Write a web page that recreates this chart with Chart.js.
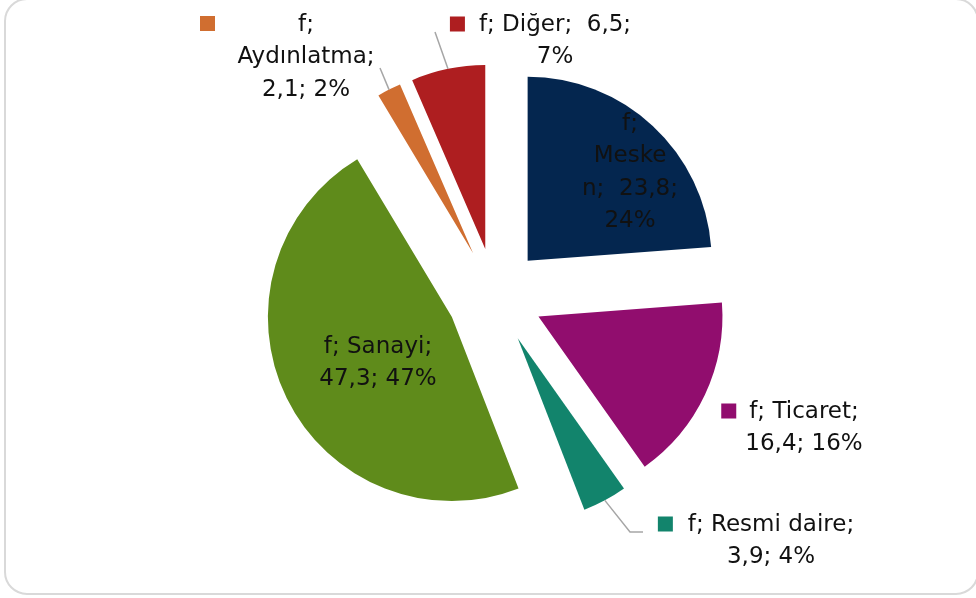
<!DOCTYPE html>
<html>
<head>
<meta charset="utf-8">
<script src="https://cdn.jsdelivr.net/npm/chart.js@4/dist/chart.umd.min.js"></script>
<style>
  html, body { margin: 0; padding: 0; background: #ffffff; }
  #wrap { width: 976px; height: 598px; position: relative; }
</style>
</head>
<body>
<div id="wrap"><canvas id="c" width="976" height="598"></canvas></div>
<script>
// ---- data ----
const categories = ['Mesken', 'Ticaret', 'Resmi daire', 'Sanayi', 'Aydınlatma', 'Diğer'];
const seriesName = 'f';
const values = [23.8, 16.4, 3.9, 47.3, 2.1, 6.5];
const percentLabels = ['24%', '16%', '4%', '47%', '2%', '7%'];
const valueLabels = ['23,8', '16,4', '3,9', '47,3', '2,1', '6,5'];

// ---- styles ----
const colors = ['#04264F', '#910D6E', '#12846C', '#5F8B1B', '#D06E30', '#AE1E20'];
const EXPLODE = 48;
const RADIUS = 184;
const FONT = '23px "DejaVu Sans", sans-serif';
const TEXT_COLOR = '#111111';
const LINE_H = 32.5;

// label layout (text lines built from data)
const labelLayout = [
  { lines: [seriesName + ';', 'Meske', 'n;  ' + valueLabels[0] + ';', percentLabels[0]], cx: 630, y: 124, key: null },
  { lines: [seriesName + '; ' + categories[1] + ';', valueLabels[1] + '; ' + percentLabels[1]], cx: 804, y: 412, key: 'adj', gap: 13 },
  { lines: [seriesName + '; ' + categories[2] + ';', valueLabels[2] + '; ' + percentLabels[2]], cx: 771, y: 525, key: 'adj', gap: 15,
    leader: [[630, 532], [643, 532]] },
  { lines: [seriesName + '; ' + categories[3] + ';', valueLabels[3] + '; ' + percentLabels[3]], cx: 378, y: 347, key: null },
  { lines: [seriesName + ';', categories[4] + ';', valueLabels[4] + '; ' + percentLabels[4]], cx: 306, y: 25, key: 'abs', kx: 200, ky: 16,
    leader: [[380, 68]] },
  { lines: [seriesName + '; ' + categories[5] + ';  ' + valueLabels[5] + ';', percentLabels[5]], cx: 555, y: 25, key: 'adj', gap: 14,
    leader: [[435, 32]] }
];

const frame = {
  id: 'frame',
  beforeDraw(chart) {
    const ctx = chart.ctx;
    ctx.save();
    ctx.strokeStyle = '#d9d9d9';
    ctx.lineWidth = 2;
    ctx.beginPath();
    ctx.roundRect(5, -1, 973, 595, 22);
    ctx.stroke();
    ctx.restore();
  }
};

const explode = {
  id: 'explode',
  beforeDatasetDraw(chart, args) {
    const ctx = chart.ctx;
    args.meta.data.forEach(arc => {
      const mid = (arc.startAngle + arc.endAngle) / 2;
      ctx.save();
      ctx.translate(Math.cos(mid) * EXPLODE, Math.sin(mid) * EXPLODE);
      arc.draw(ctx);
      ctx.restore();
    });
    return false;
  }
};

const labels = {
  id: 'pieLabels',
  afterDatasetsDraw(chart) {
    const ctx = chart.ctx;
    const arcs = chart.getDatasetMeta(0).data;
    ctx.save();
    ctx.font = FONT;
    ctx.textBaseline = 'middle';
    ctx.textAlign = 'center';
    labelLayout.forEach((L, i) => {
      const arc = arcs[i];
      const mid = (arc.startAngle + arc.endAngle) / 2;
      if (L.leader) {
        const ox = arc.x + Math.cos(mid) * (EXPLODE + arc.outerRadius);
        const oy = arc.y + Math.sin(mid) * (EXPLODE + arc.outerRadius);
        ctx.strokeStyle = '#a6a6a6';
        ctx.lineWidth = 1.5;
        ctx.beginPath();
        ctx.moveTo(ox, oy);
        L.leader.forEach(p => ctx.lineTo(p[0], p[1]));
        ctx.stroke();
      }
      ctx.fillStyle = TEXT_COLOR;
      L.lines.forEach((t, j) => {
        ctx.fillText(t, L.cx, L.y + j * LINE_H);
      });
      if (L.key === 'adj') {
        const w = ctx.measureText(L.lines[0]).width;
        const kx = L.cx - w / 2 - L.gap - 15;
        ctx.fillStyle = colors[i];
        ctx.fillRect(kx, L.y - 8.5, 15, 15);
      } else if (L.key === 'abs') {
        ctx.fillStyle = colors[i];
        ctx.fillRect(L.kx, L.ky, 15, 15);
      }
    });
    ctx.restore();
  }
};

new Chart(document.getElementById('c'), {
  type: 'pie',
  data: {
    labels: categories,
    datasets: [{
      label: seriesName,
      data: values,
      backgroundColor: colors,
      borderWidth: 0,
      offset: 0
    }]
  },
  options: {
    responsive: false,
    animation: false,
    devicePixelRatio: 1,
    radius: RADIUS,
    layout: { padding: { left: 14, right: 0, top: 0, bottom: 6 } },
    plugins: {
      legend: { display: false },
      tooltip: { enabled: false },
      title: { display: false }
    }
  },
  plugins: [frame, explode, labels]
});
</script>
</body>
</html>
